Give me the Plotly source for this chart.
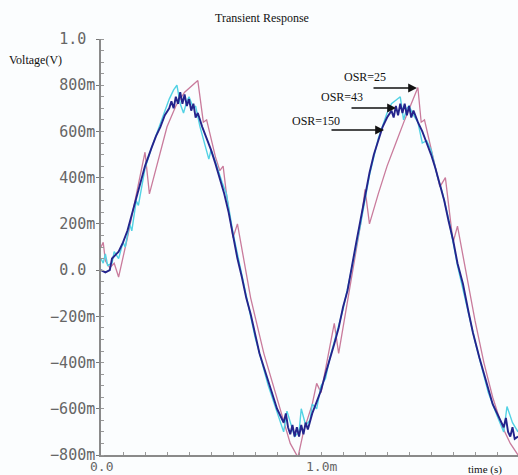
import plotly.graph_objects as go

# ---------------- data (time in ms, voltage in V) ----------------
t_osr150 = [0.00, 0.02, 0.04, 0.05, 0.08, 0.10, 0.12, 0.14, 0.165, 0.18,
            0.20, 0.23, 0.25, 0.27, 0.29, 0.31, 0.32, 0.33, 0.34, 0.35,
            0.36, 0.37, 0.38, 0.39, 0.40, 0.41, 0.42, 0.43, 0.44, 0.46,
            0.48, 0.50, 0.52, 0.54, 0.56, 0.58, 0.60, 0.62, 0.64, 0.66,
            0.68, 0.70, 0.72, 0.74, 0.76, 0.78, 0.80, 0.82, 0.83, 0.84,
            0.85, 0.86, 0.87, 0.88, 0.89, 0.90, 0.91, 0.92, 0.93, 0.94,
            0.96, 0.98, 1.00, 1.02, 1.04, 1.06, 1.08, 1.10, 1.12, 1.14,
            1.16, 1.18, 1.20, 1.22, 1.24, 1.26, 1.28, 1.30, 1.32, 1.33,
            1.34, 1.35, 1.36, 1.37, 1.38, 1.39, 1.40, 1.41, 1.42, 1.44,
            1.46, 1.48, 1.50, 1.52, 1.54, 1.56, 1.58, 1.60, 1.62, 1.645,
            1.67, 1.69, 1.72, 1.74, 1.76, 1.78, 1.80, 1.82, 1.83, 1.84,
            1.85, 1.86, 1.87, 1.88, 1.895]
v_osr150 = [0.00, -0.01, 0.00, 0.05, 0.08, 0.12, 0.17, 0.24, 0.32, 0.38,
            0.45, 0.53, 0.58, 0.62, 0.67, 0.70, 0.73, 0.70, 0.75, 0.72,
            0.77, 0.72, 0.76, 0.71, 0.74, 0.69, 0.72, 0.66, 0.68, 0.62,
            0.57, 0.52, 0.46, 0.40, 0.33, 0.25, 0.15, 0.05, -0.03, -0.12,
            -0.19, -0.28, -0.36, -0.42, -0.48, -0.53, -0.60, -0.64, -0.66, -0.62,
            -0.68, -0.71, -0.67, -0.72, -0.68, -0.72, -0.67, -0.71, -0.66, -0.69,
            -0.62, -0.57, -0.52, -0.45, -0.39, -0.32, -0.25, -0.16, -0.09, 0.02,
            0.12, 0.22, 0.32, 0.42, 0.50, 0.56, 0.62, 0.66, 0.69, 0.66,
            0.71, 0.67, 0.72, 0.68, 0.72, 0.67, 0.71, 0.66, 0.69, 0.64,
            0.60, 0.55, 0.50, 0.44, 0.37, 0.30, 0.21, 0.13, 0.03, -0.06,
            -0.18, -0.27, -0.38, -0.45, -0.52, -0.58, -0.62, -0.66, -0.68, -0.64,
            -0.70, -0.72, -0.68, -0.73, -0.72]

t_osr43 = [0.00, 0.01, 0.02, 0.03, 0.05, 0.06, 0.08, 0.10, 0.11, 0.13,
           0.14, 0.16, 0.17, 0.20, 0.23, 0.26, 0.29, 0.31, 0.33, 0.345,
           0.36, 0.375, 0.39, 0.40, 0.42, 0.43, 0.45, 0.47, 0.49, 0.50,
           0.52, 0.55, 0.57, 0.60, 0.62, 0.64, 0.70, 0.76, 0.80, 0.83,
           0.845, 0.86, 0.88, 0.90, 0.91, 0.93, 0.95, 0.96, 0.98, 1.00,
           1.02, 1.04, 1.10, 1.14, 1.18, 1.22, 1.26, 1.30, 1.32, 1.36,
           1.375, 1.39, 1.40, 1.42, 1.44, 1.46, 1.48, 1.50, 1.53, 1.55,
           1.58, 1.60, 1.62, 1.70, 1.76, 1.80, 1.83, 1.845, 1.87, 1.895]
v_osr43 = [0.05, 0.03, 0.07, 0.02, 0.03, 0.08, 0.05, 0.12, 0.10, 0.20,
           0.17, 0.30, 0.28, 0.44, 0.53, 0.61, 0.69, 0.74, 0.78, 0.80,
           0.72, 0.68, 0.73, 0.75, 0.70, 0.71, 0.62, 0.55, 0.48, 0.52,
           0.47, 0.38, 0.33, 0.16, 0.07, -0.03, -0.29, -0.50, -0.62, -0.70,
           -0.61, -0.66, -0.72, -0.70, -0.60, -0.67, -0.65, -0.58, -0.60, -0.50,
           -0.47, -0.38, -0.17, 0.01, 0.20, 0.41, 0.57, 0.68, 0.72, 0.75,
           0.65, 0.70, 0.71, 0.67, 0.64, 0.55, 0.56, 0.52, 0.40, 0.34,
           0.22, 0.12, 0.02, -0.31, -0.53, -0.63, -0.70, -0.59, -0.66, -0.70]

t_osr25 = [0.00, 0.01, 0.02, 0.04, 0.06, 0.08, 0.12, 0.16, 0.20, 0.22,
           0.26, 0.30, 0.34, 0.38, 0.44, 0.465, 0.48, 0.50, 0.52, 0.54,
           0.555, 0.57, 0.60, 0.62, 0.68, 0.74, 0.80, 0.86, 0.895, 0.92,
           0.96, 0.98, 1.00, 1.06, 1.08, 1.14, 1.18, 1.20, 1.22, 1.26,
           1.30, 1.34, 1.38, 1.44, 1.455, 1.47, 1.50, 1.54, 1.565, 1.60,
           1.62, 1.66, 1.70, 1.74, 1.78, 1.82, 1.86, 1.895]
v_osr25 = [0.10, 0.12, 0.04, 0.01, 0.03, -0.03, 0.14, 0.33, 0.51, 0.33,
           0.47, 0.62, 0.71, 0.77, 0.82, 0.64, 0.65, 0.57, 0.49, 0.43,
           0.45, 0.33, 0.14, 0.20, -0.12, -0.36, -0.56, -0.75, -0.81, -0.70,
           -0.58, -0.49, -0.53, -0.23, -0.36, -0.02, 0.20, 0.35, 0.20, 0.33,
           0.45, 0.55, 0.65, 0.79, 0.64, 0.65, 0.52, 0.36, 0.40, 0.12,
           0.19, -0.02, -0.22, -0.40, -0.55, -0.67, -0.75, -0.80]

y_tick_vals = [-0.8, -0.6, -0.4, -0.2, 0.0, 0.2, 0.4, 0.6, 0.8, 1.0]
y_tick_text = ["\u2212800m", "\u2212600m", "\u2212400m", "\u2212200m", "0.0\u00a0",
               "200m", "400m", "600m", "800m", "1.0\u00a0"]
x_tick_vals = [0.0, 1.0]
x_tick_text = ["0.0", "1.0m"]

# ---------------- layout geometry ----------------
W, H = 518, 475
L, R, T, B = 101, 0, 39, 20
X0, X1 = 0.0, 1.895
Y0, Y1 = -0.8, 1.0
PW, PH = W - L - R, H - T - B


def px_paper_x(px):
    return (px - L) / PW


def px_paper_y(py):
    return (H - B - py) / PH


def dx(px):
    return X0 + (px - L) / PW * (X1 - X0)


def dy(py):
    return Y1 - (py - T) / PH * (Y1 - Y0)


fig = go.Figure()
fig.add_trace(go.Scatter(x=t_osr25, y=v_osr25, mode="lines", name="OSR=25",
                         line=dict(color="#c97b9c", width=1.3)))
fig.add_trace(go.Scatter(x=t_osr43, y=v_osr43, mode="lines", name="OSR=43",
                         line=dict(color="#52d2e4", width=1.4)))
fig.add_trace(go.Scatter(x=t_osr150, y=v_osr150, mode="lines", name="OSR=150",
                         line=dict(color="#24248c", width=1.9)))

serif = "Liberation Serif"
mono = "DejaVu Sans Mono"
ann = []


def text_ann(txt, px, py, size, family=serif, color="#111", xanchor="center"):
    return dict(text=txt, xref="paper", yref="paper",
                x=px_paper_x(px), y=px_paper_y(py),
                xanchor=xanchor, yanchor="middle", showarrow=False,
                font=dict(family=family, size=size, color=color))


# title and axis captions
ann.append(text_ann("Transient Response", 262, 18, 12))
ann.append(text_ann("Voltage(V)", 7, 60, 12, xanchor="left"))
ann.append(text_ann("time (s)", 485, 469, 11))
# x tick labels drawn just under the axis, at their axis values
for val, lab in zip(x_tick_vals, x_tick_text):
    ann.append(dict(text=lab, xref="x", yref="paper", x=val, y=px_paper_y(467),
                    xanchor="center", yanchor="middle", showarrow=False,
                    font=dict(family=mono, size=13, color="#666")))
# OSR labels and arrows
labels = [("OSR=25", 365, 77, 417, 88, 45),
          ("OSR=43", 342, 97, 396, 108, 46),
          ("OSR=150", 316, 121, 384, 130, 54)]
for txt, tx, ty, hx, hy, alen in labels:
    ann.append(text_ann(txt, tx, ty, 12))
    ann.append(dict(text="", xref="x", yref="y", x=dx(hx), y=dy(hy),
                    ax=-alen, ay=0, axref="pixel", ayref="pixel",
                    showarrow=True, arrowhead=2, arrowsize=1.1, arrowwidth=1.6,
                    arrowcolor="#111"))

fig.update_layout(
    width=W, height=H,
    margin=dict(l=L, r=R, t=T, b=B, pad=0),
    paper_bgcolor="#fbfdfe", plot_bgcolor="#fbfdfe",
    showlegend=False,
    annotations=ann,
    xaxis=dict(range=[X0, X1], showgrid=False, zeroline=False,
               showline=True, linecolor="#8a8a8a", linewidth=1.5,
               tickmode="array", tickvals=x_tick_vals, ticktext=["", ""],
               showticklabels=False,
               ticks="inside", ticklen=7, tickwidth=1.2, tickcolor="#777",
               minor=dict(ticks="inside", ticklen=3, tickwidth=1, tickcolor="#999",
                          tickmode="linear", tick0=0, dtick=0.1, showgrid=False)),
    yaxis=dict(range=[Y0, Y1], showgrid=False, zeroline=False,
               showline=True, linecolor="#8a8a8a", linewidth=1.5,
               tickmode="array", tickvals=y_tick_vals, ticktext=y_tick_text,
               ticks="outside", ticklen=3, tickwidth=1.2, tickcolor="#777",
               ticklabelstandoff=-2,
               tickfont=dict(family=mono, size=15, color="#666"),
               minor=dict(ticks="inside", ticklen=3, tickwidth=1, tickcolor="#999",
                          tickmode="linear", tick0=0, dtick=0.05, showgrid=False)),
)

fig.write_html(
    "out.html",
    config={"displayModeBar": False},
    post_script="document.body.style.margin='0';document.body.style.overflow='hidden';"
)
